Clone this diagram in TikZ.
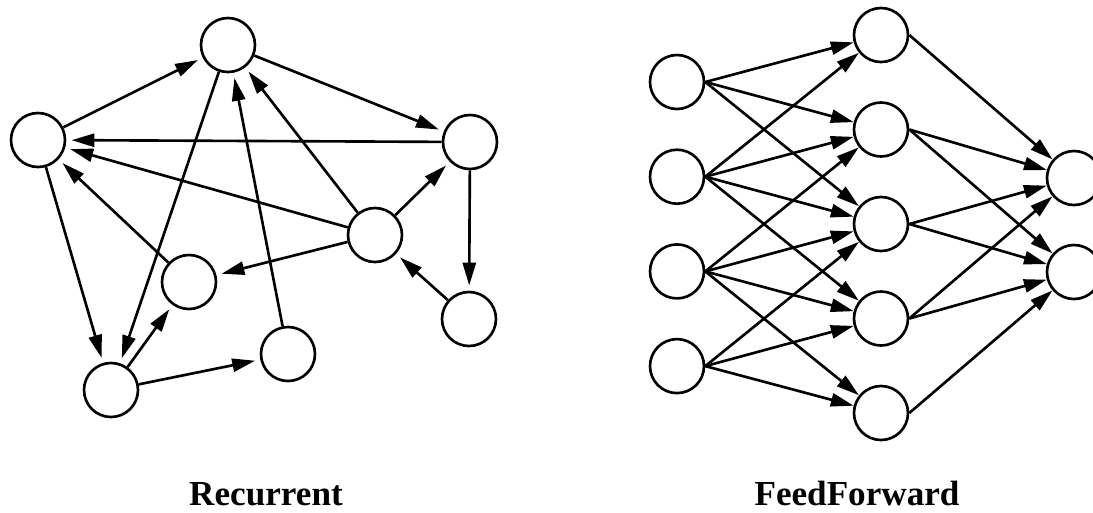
\documentclass[tikz,border=0pt]{standalone}
\usepackage{fontspec}
\setmainfont{Liberation Serif}
\usetikzlibrary{arrows.meta}

\tikzset{
  neuron/.style={circle,draw,line width=1.5pt,minimum size=1.08cm,inner sep=0pt},
  link/.style={line width=1.5pt,-{Triangle[length=13pt,width=7.5pt]}},
  caption/.style={anchor=base,font=\fontsize{20}{24}\selectfont\bfseries}
}

\begin{document}
\begin{tikzpicture}[x=0.02cm,y=-0.02cm]
\clip (0,0) rectangle (1093,512);

% recurrent net
\node[neuron] (top) at (228,45) {};
\node[neuron] (left) at (38,140) {};
\node[neuron] (right) at (470,142) {};
\node[neuron] (mid) at (375,235) {};
\node[neuron] (inner) at (189,282) {};
\node[neuron] (lowright) at (469,319) {};
\node[neuron] (low) at (288,354) {};
\node[neuron] (corner) at (111,390) {};

\foreach \a/\b in {left/top,top/right,right/left,mid/left,inner/left,
                   mid/top,low/top,top/corner,left/corner,corner/inner,
                   corner/low,mid/right,mid/inner,right/lowright,lowright/mid}
  \draw[link,shorten >=3pt] (\a) -- (\b);

\node[caption] (rec) at (266,505) {Recurrent};

% feedforward net
\foreach \i in {1,...,4}
  \node[neuron] (in\i) at (677,{82+94.7*(\i-1)}) {};
\foreach \j in {1,...,5}
  \node[neuron] (hid\j) at (881,{35+94.5*(\j-1)}) {};
\node[neuron] (out1) at (1074,178) {};
\node[neuron] (out2) at (1074,272) {};

\foreach \i/\targets in {1/{1,2,3},2/{1,2,3,4},3/{2,3,4,5},4/{3,4,5}}
  \foreach \j in \targets
    \draw[link] (in\i.east) -- (hid\j);
\foreach \j/\targets in {1/{1},2/{1,2},3/{1,2},4/{1,2},5/{2}}
  \foreach \k in \targets
    \draw[link] (hid\j.east) -- (out\k);

\node[caption] (ff) at (857,505) {FeedForward};
\end{tikzpicture}
\end{document}
